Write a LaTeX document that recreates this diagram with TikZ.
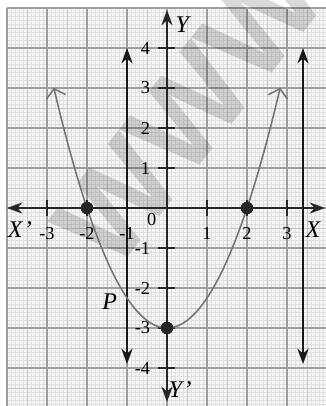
\documentclass[tikz,border=0pt]{standalone}
\usepackage{fontspec}
\setmainfont{Liberation Serif}
\newfontfamily\wmfont{Liberation Sans}
\usetikzlibrary{arrows.meta}

\begin{document}
\begin{tikzpicture}[
  >={Stealth[length=11pt,width=8pt]},
  every node/.style={font=\fontsize{13}{15}\selectfont},
  axis/.style={line width=1pt, black!85, <->},
  vline/.style={line width=1.1pt, black!90, <->},
  curve/.style={line width=1.1pt, black!55, {Straight Barb[length=6pt,width=14pt]}-{Straight Barb[length=6pt,width=14pt]}},
  dot/.style={circle, fill=black!85, inner sep=0pt, minimum size=9pt},
  lbl/.style={font=\fontsize{17}{19}\selectfont\itshape},
  tick/.style={line width=0.9pt, black!85}
]
\useasboundingbox (-4.175,-4.95) rectangle (3.975,5.2);
\begin{scope}
\clip (-4.175,-4.95) rectangle (3.975,5.2);
% graph paper
\fill[black!4] (-4,-5) rectangle (4,5);
\draw[black!12, line width=0.25pt, step=0.1] (-4,-5) grid (4,5);
\draw[black!22, line width=0.4pt, step=0.5] (-4,-5) grid (4,5);
\draw[black!38, line width=0.8pt, step=1] (-4,-5) grid (4,5);
% watermark
\node[rotate=52, text=black, opacity=0.15, font=\fontsize{88}{88}\wmfont\bfseries] (wm) at (0.55,2.45) {WWW};
\end{scope}

% axes
\coordinate (xl) at (-4,0);
\coordinate (xr) at (3.95,0);
\coordinate (yt) at (0,4.95);
\coordinate (yb) at (0,-4.85);
\draw[axis] (xl) -- (xr);
\draw[axis] (yb) -- (yt);
\foreach \x in {-3,-2,-1,1,2,3} {
  \draw[tick] (\x,-0.2) -- (\x,0.2);
  \node (xt\x) at (\x,-0.63) {\x};
}
\foreach \y in {-4,-3,-2,-1,1,2,3,4} {
  \draw[tick] (-0.22,\y) -- (0.2,\y);
  \node[anchor=east] (yt\y) at (-0.3,\y) {\y};
}
\node (orig) at (-0.38,-0.3) {0};

% vertical lines
\coordinate (la) at (-1,4.0);
\coordinate (lb) at (-1,-3.9);
\coordinate (ra) at (3.4,4.0);
\coordinate (rb) at (3.4,-3.9);
\draw[vline] (lb) -- (la);
\draw[vline] (rb) -- (ra);

% parabola
\draw[curve] plot[domain=-2.83:2.83, samples=60, smooth] (\x,{0.75*\x*\x-3});

\node[dot] (d1) at (-2,0) {};
\node[dot] (d2) at (2,0) {};
\node[dot] (d3) at (0,-3) {};

\node[lbl] (p) at (-1.43,-2.35) {P};
\node[lbl] (ylab) at (0.38,4.58) {Y};
\node[lbl] (yplab) at (0.33,-4.55) {Y\kern1pt'};
\node[lbl] (xplab) at (-3.68,-0.55) {X\kern1pt'};
\node[lbl] (xlab) at (3.65,-0.55) {X};
\end{tikzpicture}
\end{document}
